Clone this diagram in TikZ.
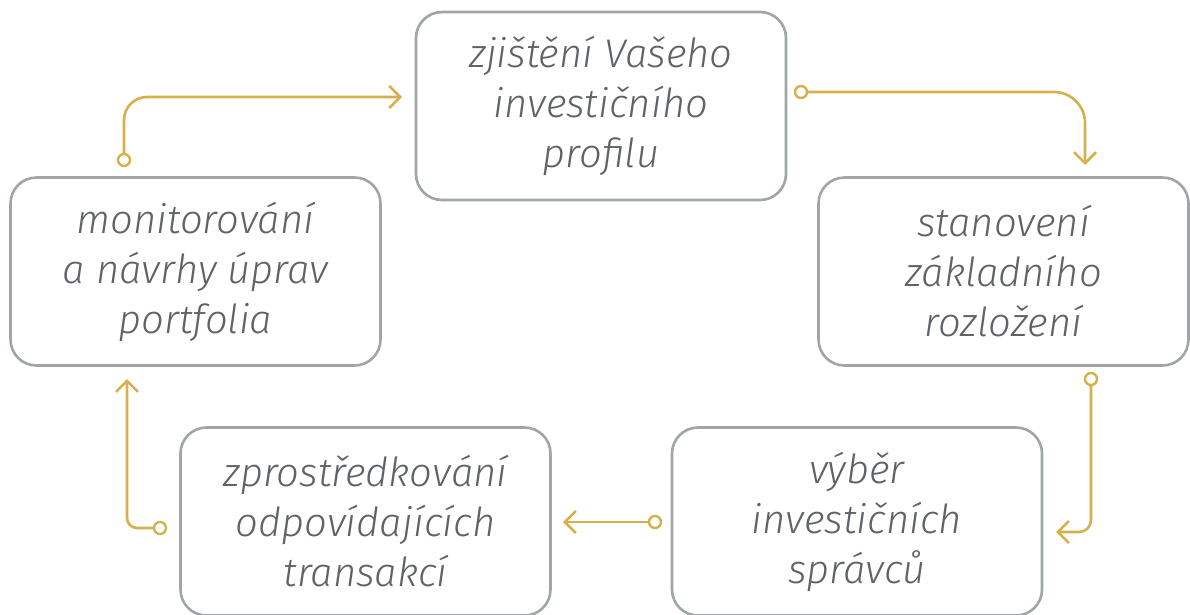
\documentclass[tikz,border=0pt]{standalone}
\usepackage{fontspec}
\setmainfont{Fira Sans}[UprightFont=* Light, ItalicFont=* Light Italic]
\usetikzlibrary{arrows.meta}
\definecolor{gold}{HTML}{D5B04C}
\definecolor{boxgray}{HTML}{A0A5A8}
\definecolor{txtgray}{HTML}{5F6266}
\tikzset{
  stepbox/.style={draw=boxgray, line width=2.6pt, rounded corners=26pt, fill=white,
    minimum width=370pt, minimum height=188pt, inner sep=0pt,
    text=txtgray, align=center, font=\fontsize{40}{50}\selectfont\itshape},
  conn/.style={draw=gold, line width=2.6pt, -{Straight Barb[length=11pt,width=22pt]}},
  dot/.style={circle, draw=gold, line width=2.4pt, fill=white, inner sep=0pt, minimum size=12pt},
}
\begin{document}
\begin{tikzpicture}[x=1pt,y=-1pt]
\useasboundingbox[fill=white] (0,0) rectangle (1190,614);
\node[stepbox] (T) at (601,106) {zjištění Vašeho\\investičního\\profilu};
\node[stepbox] (R) at (1003.5,271.5) {stanovení\\základního\\rozložení};
\node[stepbox] (L) at (195.5,271.5) {monitorování\\a návrhy úprav\\portfolia};
\node[stepbox] (BL) at (365.5,521.5) {zprostředkování\\odpovídajících\\transakcí};
\node[stepbox] (BR) at (857,521.5) {výběr\\investičních\\správců};
% connectors
\node[dot] (d1) at (124,160) {};
\coordinate (a1) at (402,97);
\node[dot] (d2) at (801,92) {};
\coordinate (a2) at (1085,165);
\node[dot] (d3) at (1091,379) {};
\coordinate (a3) at (1056,532);
\node[dot] (d4) at (655,522) {};
\coordinate (a4) at (563,522);
\node[dot] (d5) at (160,528) {};
\coordinate (a5) at (127,379);
\draw[conn, rounded corners=23pt] (d1) |- (a1);
\draw[conn, rounded corners=31pt] (d2) -| (a2);
\draw[conn, rounded corners=12pt] (d3) |- (a3);
\draw[conn] (d4) -- (a4);
\draw[conn, rounded corners=10pt] (d5) -| (a5);
\end{tikzpicture}
\end{document}
